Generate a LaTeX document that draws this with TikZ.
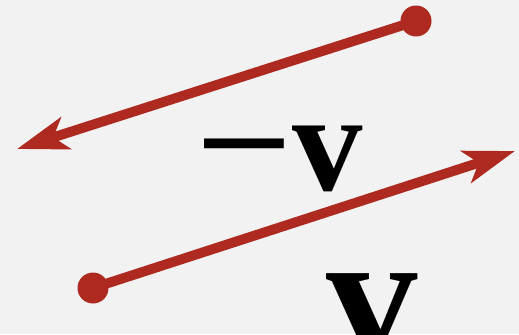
\documentclass[tikz,border=0pt]{standalone}
\usepackage{fontspec}
\usepackage{graphicx}
\setmainfont{Liberation Serif}
\usetikzlibrary{arrows.meta}
\definecolor{arrowRed}{RGB}{174, 42, 32}
\definecolor{paperGray}{RGB}{242, 242, 242}
\tikzset{
  vec/.style={arrowRed, line width=5.6pt, -{Stealth[length=1.02cm, width=0.66cm, inset=0.26cm]}},
  dot/.style={circle, fill=arrowRed, inner sep=0pt, minimum size=0.62cm},
  lbl/.style={inner sep=0pt, anchor=base, font=\bfseries}
}

\begin{document}
\begin{tikzpicture}[x=0.02cm, y=-0.02cm]
        \fill[paperGray] (0,0) rectangle (519,334);
        \useasboundingbox (0,0) rectangle (519,334);
        \clip (0,0) rectangle (519,334);
        \node[dot] (mstart) at (416,21) {};
        \coordinate (mend) at (17,149);
        \node[dot] (vstart) at (93,288) {};
        \coordinate (vend) at (515,151);
        \draw[vec] (mstart.center) -- (mend);
        \draw[vec] (vstart.center) -- (vend);
        \node[lbl, font=\fontsize{80}{80}\selectfont\bfseries] (mlabel) at (279,190) {\scalebox{1.22}[1]{−}v};
        \node[lbl, font=\fontsize{104}{104}\selectfont\bfseries] (vlabel) at (372,357) {v};
      \end{tikzpicture}
\end{document}
